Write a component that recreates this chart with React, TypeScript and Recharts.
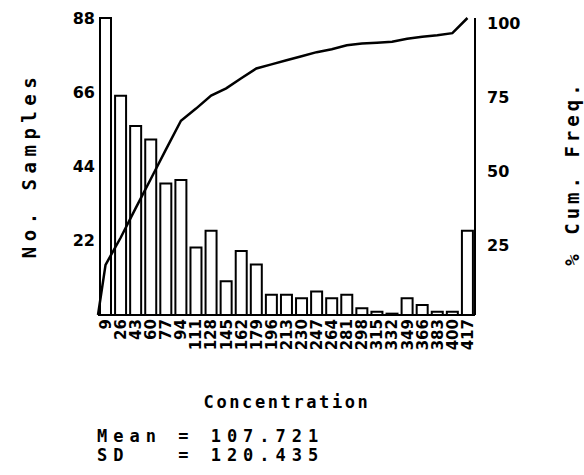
import React from "react";
import { Bar, ComposedChart, Line, XAxis, YAxis } from "recharts";

// bin centres (concentration) and sample counts
const bins = [9, 26, 43, 60, 77, 94, 111, 128, 145, 162, 179, 196, 213, 230, 247, 264, 281, 298, 315, 332, 349, 366, 383, 400, 417];
const counts = [88, 65, 56, 52, 39, 40, 20, 25, 10, 19, 15, 6, 6, 5, 7, 5, 6, 2, 1, 0.4, 5, 3, 1, 1, 25];

// cumulative frequency curve: lower edge of first bin, then each bin centre
const binRange = [0.5, 425.5];
const cumX = [0.5, 9, 26, 43, 60, 77, 94, 111, 128, 145, 162, 179, 196, 213, 230, 247, 264, 281, 298, 315, 332, 349, 366, 383, 400, 417];
const cumPct = [0, 16.9, 26, 36, 45.8, 55.7, 65.4, 69.5, 73.9, 76.3, 79.7, 83, 84.4, 85.8, 87.1, 88.5, 89.5, 90.8, 91.4, 91.7, 92, 93, 93.7, 94.2, 94.9, 100];

const countTicks = [22, 44, 66, 88];
const pctTicks = [25, 50, 75, 100];

const histData = bins.map((b, i) => ({ bin: String(b), count: counts[i] }));
const cumData = cumX.map((x, i) => ({ x, pct: cumPct[i] }));

const tickFont = { fontFamily: "DejaVu Sans", fontWeight: 700, fontSize: 15, fill: "#000" };
const titleFont = { fontFamily: "DejaVu Sans Mono", fontWeight: 700, fill: "#000" };

function BinTick({ x, y, payload }: any) {
  return (
    <text
      x={x}
      y={y}
      transform={`rotate(-90 ${x} ${y})`}
      textAnchor="end"
      dx={-1}
      dy="0.36em"
      {...tickFont}
    >
      {payload.value}
    </text>
  );
}

export default function App() {
  return (
    <div style={{ position: "absolute", left: 0, top: 0, width: 584, height: 475, background: "#fff" }}>
      <ComposedChart width={584} height={475} data={histData} margin={{ top: 18, right: 59, bottom: 120, left: 58 }} barCategoryGap={2}>
        <XAxis
          dataKey="bin"
          interval={0}
          height={40}
          tickLine={false}
          tickSize={0}
          tickMargin={3}
          axisLine={{ stroke: "#000", strokeWidth: 2 }}
          tick={<BinTick />}
        />
        <XAxis xAxisId="num" type="number" dataKey="x" domain={binRange} hide />
        <YAxis
          yAxisId="count"
          domain={[0, 88]}
          ticks={countTicks}
          width={40}
          axisLine={false}
          tickLine={false}
          tickSize={0}
          tickMargin={3}
          tick={{ ...tickFont, fontSize: 16 }}
        />
        <YAxis
          yAxisId="pct"
          orientation="right"
          domain={[0, 100]}
          ticks={pctTicks}
          width={50}
          axisLine={{ stroke: "#000", strokeWidth: 2 }}
          tickLine={false}
          tickSize={0}
          tickMargin={12}
          tick={{ ...tickFont, fontSize: 16, dy: 5 }}
        />
        <Bar yAxisId="count" dataKey="count" fill="#fff" stroke="#000" strokeWidth={2} isAnimationActive={false} />
        <Line
          xAxisId="num"
          yAxisId="pct"
          data={cumData}
          dataKey="pct"
          type="linear"
          stroke="#000"
          strokeWidth={2.5}
          dot={false}
          activeDot={false}
          isAnimationActive={false}
        />
      </ComposedChart>
      <svg width={584} height={475} style={{ position: "absolute", left: 0, top: 0, pointerEvents: "none" }}>
        <text x={29} y={165} transform="rotate(-90 29 165)" textAnchor="middle" dominantBaseline="central" fontSize={19} letterSpacing={5.5} {...titleFont}>
          No. Samples
        </text>
        <text x={572} y={173} transform="rotate(-90 572 173)" textAnchor="middle" dominantBaseline="central" fontSize={19} letterSpacing={4} {...titleFont}>
          % Cum. Freq.
        </text>
        <text x={287} y={408} textAnchor="middle" fontSize={17} letterSpacing={2.6} {...titleFont}>
          Concentration
        </text>
        <text x={97} y={442} fontSize={17} letterSpacing={6} style={{ whiteSpace: "pre" }} {...titleFont}>
          {"Mean = 107.721"}
        </text>
        <text x={97} y={461} fontSize={17} letterSpacing={6} style={{ whiteSpace: "pre" }} {...titleFont}>
          {"SD   = 120.435"}
        </text>
      </svg>
    </div>
  );
}
